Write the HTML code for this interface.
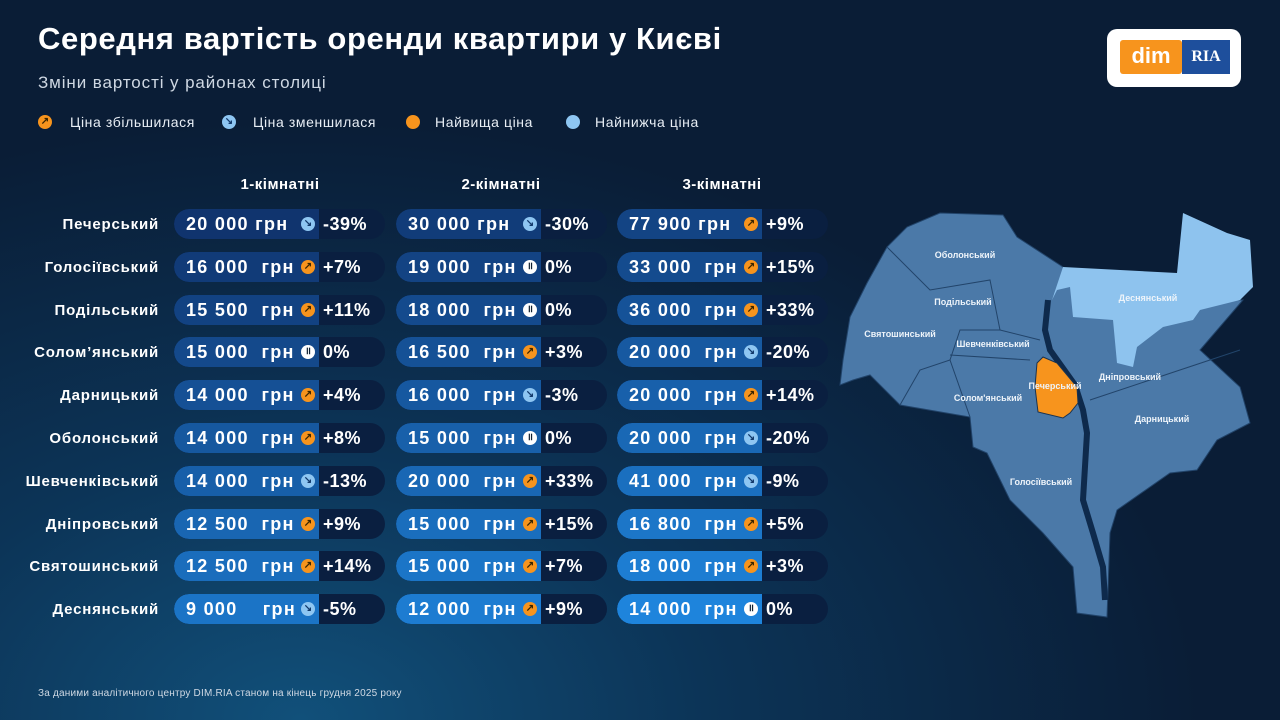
<!DOCTYPE html>
<html><head><meta charset="utf-8"><style>
*{margin:0;padding:0;box-sizing:border-box}
body{width:1280px;height:720px;overflow:hidden;font-family:"Liberation Sans",sans-serif;color:#fff;
background:radial-gradient(ellipse 900px 600px at 300px 720px,#11507a 0%,#0c3457 45%,#0a1d36 100%);position:relative}
.a{position:absolute;white-space:nowrap}
h1{position:absolute;left:38px;top:21px;font-size:31px;font-weight:bold;letter-spacing:0.6px}
.sub{left:38px;top:73px;font-size:17px;color:#cfd8e3;letter-spacing:0.9px}
.lg{top:114px;font-size:14px;color:#e8eef5;letter-spacing:0.6px}
.ic{position:absolute;width:14px;height:14px;border-radius:50%;font-size:10px;line-height:14px;text-align:center;font-weight:bold}
.o{background:#f7941d;color:#3a2500}.b{background:#8ec6f2;color:#11386a}.w{background:#fff;color:#123}
.hd{top:176px;font-size:15px;font-weight:bold;transform:translateX(-50%);letter-spacing:0.5px}
.rl{right:1121px;font-size:15px;font-weight:bold;letter-spacing:0.8px}
.pill{position:absolute;width:211px;height:30px;border-radius:15px;background:#0a1f40;overflow:hidden}
.pl{position:absolute;left:0;top:0;height:30px;width:145px;border-radius:15px 0 0 15px}
.pr{position:absolute;left:12px;top:5px;font-size:18px;font-weight:bold;letter-spacing:1.3px}
.pp{position:absolute;left:149px;top:5px;font-size:18px;font-weight:bold;letter-spacing:0.5px}
.pill .ic{left:127px;top:8px}
.ml{position:absolute;font-size:9px;font-weight:bold;color:#eef4fa;transform:translateX(-50%)}
</style></head><body>
<h1>Середня вартість оренди квартири у Києві</h1>
<div class="a sub">Зміни вартості у районах столиці</div>
<div class="ic o" style="left:38px;top:115px">↗</div><div class="a lg" style="left:70px">Ціна збільшилася</div>
<div class="ic b" style="left:222px;top:115px">↘</div><div class="a lg" style="left:253px">Ціна зменшилася</div>
<div class="ic o" style="left:406px;top:115px"></div><div class="a lg" style="left:435px">Найвища ціна</div>
<div class="ic b" style="left:566px;top:115px"></div><div class="a lg" style="left:595px">Найнижча ціна</div>
<div style="position:absolute;left:1107px;top:29px;width:134px;height:58px;background:#fff;border-radius:10px"></div>
<div style="position:absolute;left:1120px;top:40px;width:62px;height:34px;background:#f7941d;border-radius:3px;font-size:22px;font-weight:bold;text-align:center;line-height:32px">dim</div>
<div style="position:absolute;left:1182px;top:40px;width:48px;height:34px;background:#1e4f9c;font-size:16px;font-weight:bold;font-family:'Liberation Serif',serif;text-align:center;line-height:34px">RIA</div>
<div class="a hd" style="left:280px">1-кімнатні</div>
<div class="a hd" style="left:501px">2-кімнатні</div>
<div class="a hd" style="left:722px">3-кімнатні</div>
<div id="rows"></div>
<svg style="position:absolute;left:0;top:0" width="1280" height="720">
<polygon fill="#4b79a8" stroke="#22446a" stroke-width="1" points="1063,267 1017,237 1003,215 940,213 907,227 887,247 867,283 850,317 843,360 840,385 853,380 870,375 900,405 970,417 973,447 987,453 1010,500 1043,533 1073,567 1077,613 1107,617 1110,533 1117,510 1170,473 1197,470 1217,440 1250,423 1240,387 1200,350 1243,300 1100,300"/>
<polygon fill="#8ec3ee" points="1063,267 1177,273 1183,213 1227,233 1250,240 1253,287 1240,300 1200,310 1193,320 1163,327 1137,347 1133,367 1117,363 1113,320 1073,317 1070,287 1057,290 1052,300"/>
<polyline fill="none" stroke="#0e2a4c" stroke-width="6" points="1048,300 1045,330 1050,350 1075,385 1083,410 1087,433 1083,500 1093,533 1103,567 1105,600"/>
<polyline fill="none" stroke="#22446a" stroke-width="1" points="887,247 930,290 990,280 1000,330 960,330 950,360 920,370 900,405"/>
<polyline fill="none" stroke="#22446a" stroke-width="1" points="1000,330 1040,340"/>
<polyline fill="none" stroke="#22446a" stroke-width="1" points="950,355 1030,360"/>
<polyline fill="none" stroke="#22446a" stroke-width="1" points="950,360 970,417"/>
<polyline fill="none" stroke="#22446a" stroke-width="1" points="1090,400 1240,350"/>
<polygon fill="#f7941d" stroke="#1a3350" points="1043,357 1057,363 1077,387 1078,403 1070,413 1063,418 1038,412 1035,387 1037,363"/>
</svg>
<div class="ml" style="left:965px;top:250px">Оболонський</div>
<div class="ml" style="left:963px;top:297px">Подільський</div>
<div class="ml" style="left:900px;top:329px">Святошинський</div>
<div class="ml" style="left:993px;top:339px">Шевченківський</div>
<div class="ml" style="left:1148px;top:293px">Деснянський</div>
<div class="ml" style="left:1130px;top:372px">Дніпровський</div>
<div class="ml" style="left:1055px;top:381px">Печерський</div>
<div class="ml" style="left:988px;top:393px">Солом'янський</div>
<div class="ml" style="left:1162px;top:414px">Дарницький</div>
<div class="ml" style="left:1041px;top:477px">Голосіївський</div>
<div class="a" style="left:38px;top:688px;font-size:10px;color:#d0d9e4;letter-spacing:0.2px">За даними аналітичного центру DIM.RIA станом на кінець грудня 2025 року</div>
<script>
var d=[["Печерський",["20 000 грн","b","-39%"],["30 000 грн","b","-30%"],["77 900 грн","o","+9%"]],
["Голосіївський",["16 000  грн","o","+7%"],["19 000  грн","w","0%"],["33 000  грн","o","+15%"]],
["Подільський",["15 500  грн","o","+11%"],["18 000  грн","w","0%"],["36 000  грн","o","+33%"]],
["Солом’янський",["15 000  грн","w","0%"],["16 500  грн","o","+3%"],["20 000  грн","b","-20%"]],
["Дарницький",["14 000  грн","o","+4%"],["16 000  грн","b","-3%"],["20 000  грн","o","+14%"]],
["Оболонський",["14 000  грн","o","+8%"],["15 000  грн","w","0%"],["20 000  грн","b","-20%"]],
["Шевченківський",["14 000  грн","b","-13%"],["20 000  грн","o","+33%"],["41 000  грн","b","-9%"]],
["Дніпровський",["12 500  грн","o","+9%"],["15 000  грн","o","+15%"],["16 800  грн","o","+5%"]],
["Святошинський",["12 500  грн","o","+14%"],["15 000  грн","o","+7%"],["18 000  грн","o","+3%"]],
["Деснянський",["9 000    грн","b","-5%"],["12 000  грн","o","+9%"],["14 000  грн","w","0%"]]];
var h="",xs=[174,396,617];
d.forEach(function(r,i){var y=209+i*42.8,t=i/9;
h+='<div class="a rl" style="top:'+(y+7)+'px">'+r[0]+'</div>';
for(var c=0;c<3;c++){var k=t*0.8+c*0.1;var col='rgb('+Math.round(16+k*14)+','+Math.round(52+k*80)+','+Math.round(110+k*110)+')';
var g=r[c+1][1]=="o"?"↗":r[c+1][1]=="b"?"↘":"॥";
h+='<div class="pill" style="left:'+xs[c]+'px;top:'+y+'px"><div class="pl" style="background:'+col+'"></div><div class="pr" style="white-space:pre">'+r[c+1][0]+'</div><div class="ic '+r[c+1][1]+'">'+g+'</div><div class="pp">'+r[c+1][2]+'</div></div>';}
});
document.getElementById("rows").innerHTML=h;
</script>
</body></html>
